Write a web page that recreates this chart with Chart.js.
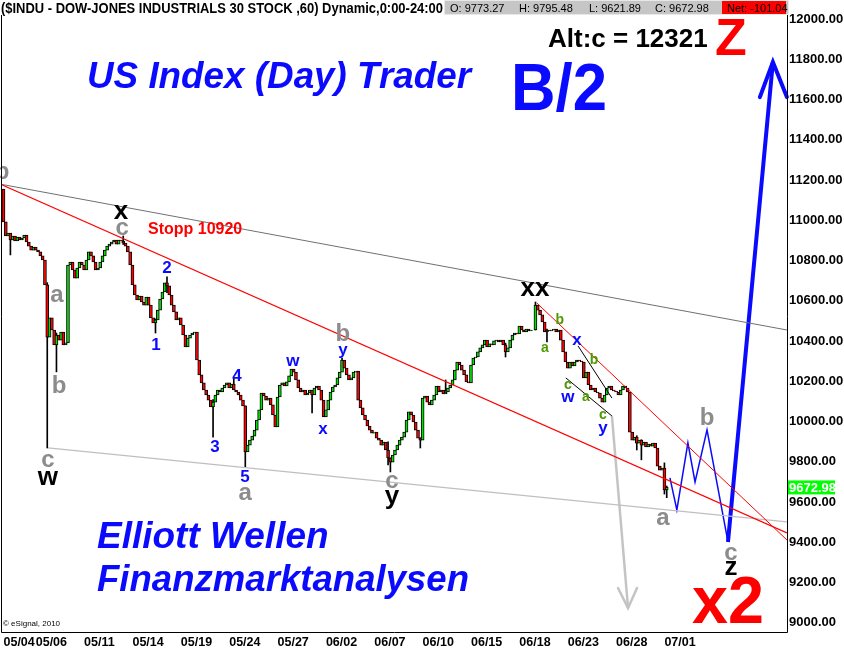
<!DOCTYPE html>
<html>
<head>
<meta charset="utf-8">
<title>$INDU 60 min - Elliott Wellen</title>
<script src="https://cdn.jsdelivr.net/npm/chart.js@4.4.0/dist/chart.umd.min.js"></script>
<style>
  html, body { margin: 0; padding: 0; background: #fff; }
  canvas { display: block; }
</style>
</head>
<body>
<canvas id="chart" width="844" height="652"></canvas>
<script>
// trading days, 7 hourly bars each (07/01 still running: 2 bars)
const tradingDays = ['05/04','05/05','05/06','05/07','05/10','05/11','05/12','05/13','05/14',
  '05/17','05/18','05/19','05/20','05/21','05/24','05/25','05/26','05/27','05/28',
  '06/01','06/02','06/03','06/04','06/07','06/08','06/09','06/10','06/11','06/14',
  '06/15','06/16','06/17','06/18','06/21','06/22','06/23','06/24','06/25','06/28',
  '06/29','06/30','07/01'];

// hourly closes per day
const hourlyCloses = [
  [10992, 10922, 10937, 10902, 10922, 10897, 10917],
  [10902, 10912, 10927, 10892, 10872, 10852, 10867],
  [10852, 10843, 10823, 10803, 10679, 10420, 10515],
  [10455, 10381, 10430, 10405, 10445, 10381, 10391],
  [10778, 10793, 10753, 10713, 10763, 10793, 10778],
  [10753, 10803, 10843, 10823, 10793, 10753, 10763],
  [10793, 10823, 10852, 10872, 10882, 10892, 10902],
  [10882, 10902, 10897, 10887, 10872, 10843, 10778],
  [10679, 10629, 10604, 10624, 10594, 10579, 10619],
  [10579, 10515, 10490, 10505, 10554, 10609, 10644],
  [10689, 10674, 10629, 10579, 10545, 10505, 10515],
  [10480, 10430, 10371, 10415, 10430, 10440, 10445],
  [10306, 10232, 10192, 10157, 10132, 10107, 10073],
  [10097, 10132, 10157, 10147, 10167, 10182, 10192],
  [10167, 10187, 10157, 10147, 10132, 10107, 10078],
  [9849, 9883, 9908, 9928, 9958, 10008, 10058],
  [10142, 10127, 10107, 10117, 10083, 10033, 9973],
  [10122, 10182, 10192, 10177, 10197, 10227, 10261],
  [10246, 10207, 10167, 10147, 10157, 10132, 10142],
  [10157, 10132, 10167, 10177, 10157, 10107, 10023],
  [10058, 10107, 10147, 10172, 10182, 10217, 10246],
  [10306, 10266, 10232, 10207, 10217, 10246, 10251],
  [10107, 10068, 10033, 10008, 9978, 9958, 9943],
  [9948, 9918, 9908, 9883, 9898, 9859, 9819],
  [9799, 9834, 9859, 9883, 9908, 9923, 9948],
  [10008, 10048, 10033, 9998, 9958, 9918, 9908],
  [10117, 10127, 10097, 10083, 10107, 10132, 10177],
  [10147, 10157, 10137, 10147, 10167, 10182, 10207],
  [10256, 10296, 10281, 10256, 10232, 10197, 10192],
  [10281, 10316, 10321, 10346, 10366, 10381, 10405],
  [10371, 10386, 10381, 10401, 10405, 10396, 10405],
  [10381, 10346, 10366, 10405, 10430, 10440, 10435],
  [10475, 10455, 10445, 10460, 10450, 10455, 10455],
  [10579, 10554, 10530, 10495, 10445, 10455, 10450],
  [10455, 10460, 10445, 10455, 10405, 10346, 10296],
  [10266, 10296, 10276, 10296, 10306, 10301, 10296],
  [10217, 10246, 10182, 10157, 10167, 10147, 10142],
  [10117, 10097, 10132, 10167, 10177, 10157, 10152],
  [10147, 10132, 10157, 10177, 10167, 10147, 9948],
  [9908, 9923, 9893, 9908, 9883, 9898, 9874],
  [9888, 9878, 9893, 9869, 9779, 9759, 9769],
  [9660, 9672.98]
];
const firstOpen = 11155;

// visible wicks: [bar, low, high]
const wicks = [
  [3, 10828, 10925], [19, 9869, 10690], [23, 10247, 10440], [52, 10880, 10922],
  [66, 10440, 10510], [71, 10640, 10719], [91, 9923, 10110], [100, 10160, 10217],
  [105, 9775, 10078], [134, 10043, 10140], [147, 10251, 10316], [167, 9785, 9900],
  [168, 9750, 9820], [181, 9869, 9920], [192, 10150, 10207], [218, 10321, 10390],
  [231, 10455, 10594], [236, 10396, 10460], [275, 9859, 9930], [277, 9810, 9910],
  [287, 9640, 9795], [288, 9622, 9680]
];

const axisDates = ['05/04','05/06','05/11','05/14','05/19','05/24','05/27','06/02',
  '06/07','06/10','06/15','06/18','06/23','06/28','07/01'];
const priceTicks = [9000, 9200, 9400, 9600, 9800, 10000, 10200, 10400, 10600,
  10800, 11000, 11200, 11400, 11600, 11800, 12000];

const sessionQuote = [['O', 9773.27], ['H', 9795.48], ['L', 9621.89], ['C', 9672.98]];
const netChange = -101.04;
const lastPrice = 9672.98;

// drawn lines, as [bar, price] points
const upperChannel = [[-1.52, 11180], [340.2, 10455]];
const redChannel = [[-1.52, 11180], [340.2, 9447]];
const redSteep = [[231.6, 10589], [340.2, 9412]];
const lowerChannel = [[19.3, 9869], [340.2, 9502]];
const wyLineA = [[244.2, 10217], [264.2, 10028]];
const wyLineB = [[249.5, 10376], [264.2, 10117]];
const greyArrow = [[264.2, 10028], [271.2, 9074]];
const projectionPath = [[289.4, 9720], [292.4, 9561], [297.2, 9894], [300.3, 9700], [305.5, 9959], [314.6, 9402]];
const projectionTarget = [[314.6, 9402], [334.1, 11786]];

// wave counts: [text, bar, price, kind]
const waveLabels = [
  ['b', -0.65, 11240, 'grey'], ['x', 51.0, 11041, 'black'], ['c', 51.5, 10962, 'grey'],
  ['a', 23.2, 10629, 'grey'], ['b', 24.1, 10177, 'grey'], ['c', 19.3, 9809, 'grey'],
  ['w', 19.3, 9720, 'black'],
  ['2', 71.0, 10763, 'blue'], ['1', 66.2, 10381, 'blue'], ['3', 91.8, 9874, 'blue'],
  ['4', 101.4, 10227, 'blue'], ['5', 104.9, 9725, 'blue'], ['a', 104.9, 9645, 'grey'],
  ['w', 125.7, 10301, 'blue'], ['x', 138.7, 9963, 'blue'], ['b', 147.4, 10435, 'grey'],
  ['y', 147.4, 10356, 'blue'], ['c', 168.7, 9705, 'grey'], ['y', 168.7, 9625, 'black'],
  ['xx', 230.8, 10659, 'black'],
  ['a', 235.1, 10366, 'green'], ['b', 241.6, 10505, 'green'], ['x', 249.0, 10405, 'blue'],
  ['b', 256.4, 10306, 'green'], ['c', 245.1, 10182, 'green'], ['w', 245.1, 10122, 'blue'],
  ['a', 252.9, 10122, 'green'], ['c', 260.3, 10033, 'green'], ['y', 260.3, 9968, 'blue'],
  ['a', 286.4, 9521, 'grey'], ['b', 305.5, 10018, 'grey'], ['c', 315.9, 9347, 'grey'],
  ['z', 315.9, 9273, 'black']
];

const FONT = '"Liberation Sans", Arial, sans-serif';
const BLUE = '#0a0aff';

// build hourly bars from the closes
const bodies = [];
let prev = firstOpen;
hourlyCloses.forEach((day, d) => {
  day.forEach((c, h) => {
    bodies.push({ x: d * 7 + h, y: [prev, c] });
    prev = c;
  });
});
const tickAt = new Map(axisDates.map(s => [tradingDays.indexOf(s) * 7, s]));

function lineSet(points, color, width) {
  return {
    type: 'line',
    data: points.map(([x, y]) => ({ x, y })),
    borderColor: color,
    borderWidth: width,
    pointRadius: 0,
    fill: false,
    tension: 0,
    order: 0
  };
}

const labelStyle = {
  grey: ['bold 24px ' + FONT, '#8c8c8c'],
  black: ['bold 26px ' + FONT, '#000'],
  blue: ['bold 17px ' + FONT, BLUE],
  green: ['bold 14px ' + FONT, '#4f9a00']
};

function text(ctx, s, x, y, font, color, align, maxWidth) {
  ctx.font = font;
  ctx.fillStyle = color;
  ctx.textAlign = align || 'left';
  if (maxWidth) ctx.fillText(s, x, y, maxWidth);
  else ctx.fillText(s, x, y);
}

function arrowHead(ctx, tip, wings, color, width) {
  ctx.strokeStyle = color;
  ctx.lineWidth = width;
  ctx.lineCap = 'round';
  ctx.beginPath();
  ctx.moveTo(tip.x + wings[0][0], tip.y + wings[0][1]);
  ctx.lineTo(tip.x, tip.y);
  ctx.lineTo(tip.x + wings[1][0], tip.y + wings[1][1]);
  ctx.stroke();
}

// no extra room for the end tick labels, the plot fills the frame
function noPadding(s) {
  s.paddingTop = 0;
  s.paddingBottom = 0;
  s.paddingLeft = 0;
  s.paddingRight = 0;
}

const overlay = {
  id: 'overlay',
  afterDatasetsDraw(chart) {
    const { ctx, scales: { x, y } } = chart;
    const at = ([i, v]) => ({ x: x.getPixelForValue(i), y: y.getPixelForValue(v) });
    ctx.save();

    arrowHead(ctx, at(greyArrow[1]), [[-10, -20], [9, -20]], '#c4c4c4', 2.5);
    arrowHead(ctx, at(projectionTarget[1]), [[-13, 35], [14, 35]], BLUE, 4);

    ctx.textBaseline = 'middle';
    waveLabels.forEach(([s, i, v, kind]) => {
      const p = at([i, v]);
      text(ctx, s, p.x, p.y, labelStyle[kind][0], labelStyle[kind][1], 'center');
    });

    ctx.textBaseline = 'alphabetic';
    text(ctx, 'US Index (Day) Trader', 87, 88, 'italic bold 37px ' + FONT, BLUE, 'left', 384);
    text(ctx, 'B/2', 511, 110, 'bold 66px ' + FONT, BLUE, 'left', 96);
    text(ctx, 'Alt:c = 12321', 548, 47, 'bold 26px ' + FONT, '#000', 'left', 165);
    text(ctx, 'Z', 715, 55, 'bold 52px ' + FONT, '#ff0000', 'left');
    text(ctx, 'Stopp 10920', 148, 234, 'bold 16px ' + FONT, '#ff0000', 'left', 95);
    text(ctx, 'Elliott Wellen', 97, 548, 'italic bold 37px ' + FONT, BLUE, 'left', 234);
    text(ctx, 'Finanzmarktanalysen', 97, 591, 'italic bold 37px ' + FONT, BLUE, 'left', 372);
    text(ctx, 'x2', 692, 623, 'bold 66px ' + FONT, '#ff0000', 'left', 72);
    text(ctx, '\u00a9 eSignal, 2010', 3, 626, '8px ' + FONT, '#000', 'left');
    ctx.restore();
  },
  afterDraw(chart) {
    const { ctx, chartArea: a, scales: { y } } = chart;
    ctx.save();
    // frame
    ctx.strokeStyle = '#000';
    ctx.lineWidth = 1;
    ctx.beginPath();
    ctx.moveTo(1.5, 0);
    ctx.lineTo(1.5, a.bottom + 0.5);
    ctx.lineTo(a.right + 0.5, a.bottom + 0.5);
    ctx.lineTo(a.right + 0.5, 0);
    ctx.stroke();

    // header
    ctx.fillStyle = '#fff';
    ctx.fillRect(0, 0, 444, 15);
    ctx.textBaseline = 'alphabetic';
    text(ctx, '($INDU - DOW-JONES INDUSTRIALS 30 STOCK ,60) Dynamic,0:00-24:00', 1, 13,
      'bold 14px ' + FONT, '#000', 'left', 442);
    ctx.fillStyle = '#c6c6c6';
    ctx.fillRect(444, 0, 345, 15);
    ctx.strokeStyle = '#e8e8e8';
    ctx.strokeRect(444.5, 0.5, 344, 14);
    const qx = [450, 519, 589, 655];
    sessionQuote.forEach(([k, v], n) => {
      text(ctx, k + ': ' + v.toFixed(2), qx[n], 12, '11px ' + FONT, '#000', 'left');
    });
    ctx.fillStyle = '#ff0000';
    ctx.fillRect(722, 1, 64, 13);
    text(ctx, 'Net: ' + netChange.toFixed(2), 727, 12, '11px ' + FONT, '#000', 'left');

    // last price marker on the axis
    const ly = y.getPixelForValue(lastPrice);
    ctx.fillStyle = '#00ff00';
    ctx.fillRect(a.right + 1, ly - 7, 47, 14);
    ctx.textBaseline = 'middle';
    text(ctx, lastPrice.toFixed(2), a.right + 2, ly + 0.5, 'bold 13px ' + FONT, '#fff', 'left');
    ctx.restore();
  }
};

Chart.defaults.font.family = FONT;

new Chart(document.getElementById('chart'), {
  type: 'bar',
  data: {
    datasets: [
      lineSet(upperChannel, '#707070', 1),
      lineSet(redChannel, '#ff0000', 1.2),
      lineSet(redSteep, '#ff0000', 1),
      lineSet(lowerChannel, '#c4bcc4', 1.3),
      lineSet(wyLineA, '#000', 1),
      lineSet(wyLineB, '#000', 1),
      lineSet(greyArrow, '#c4c4c4', 2.5),
      lineSet(projectionPath, BLUE, 1.5),
      lineSet(projectionTarget, BLUE, 4),
      {
        data: wicks.map(([i, lo, hi]) => ({ x: i, y: [lo, hi] })),
        backgroundColor: '#000',
        barThickness: 1,
        grouped: false,
        order: 3
      },
      {
        data: bodies,
        backgroundColor: c => {
          const r = c.raw;
          return r && r.y[1] >= r.y[0] ? '#00e000' : '#ff0000';
        },
        borderColor: '#000',
        borderWidth: 1,
        borderSkipped: false,
        barThickness: 3,
        grouped: false,
        order: 2
      }
    ]
  },
  options: {
    responsive: false,
    animation: false,
    layout: { padding: { left: 2, right: 0, top: 0, bottom: 0 } },
    plugins: { legend: { display: false }, tooltip: { enabled: false } },
    scales: {
      x: {
        type: 'linear',
        min: -0.65,
        max: 340.23,
        offset: false,
        bounds: 'data',
        grid: { display: false, drawTicks: false },
        border: { display: false },
        afterFit: s => { s.height = 20; noPadding(s); },
        afterBuildTicks: s => { s.ticks = [...tickAt.keys()].map(v => ({ value: v })); },
        ticks: {
          autoSkip: false,
          maxRotation: 0,
          align: 'start',
          padding: 3,
          color: '#000',
          font: { size: 12.5, weight: 'bold' },
          callback: v => tickAt.get(v) || ''
        }
      },
      y: {
        type: 'linear',
        position: 'right',
        min: 8954.8,
        max: 12094.4,
        bounds: 'data',
        grid: { display: false, drawTicks: false },
        border: { display: false },
        afterFit: s => { s.width = 57; noPadding(s); },
        afterBuildTicks: s => { s.ticks = priceTicks.map(v => ({ value: v })); },
        ticks: {
          padding: 2,
          color: '#000',
          font: { size: 13, weight: 'bold' },
          callback: v => v.toFixed(2)
        }
      }
    }
  },
  plugins: [overlay]
});
</script>
</body>
</html>
